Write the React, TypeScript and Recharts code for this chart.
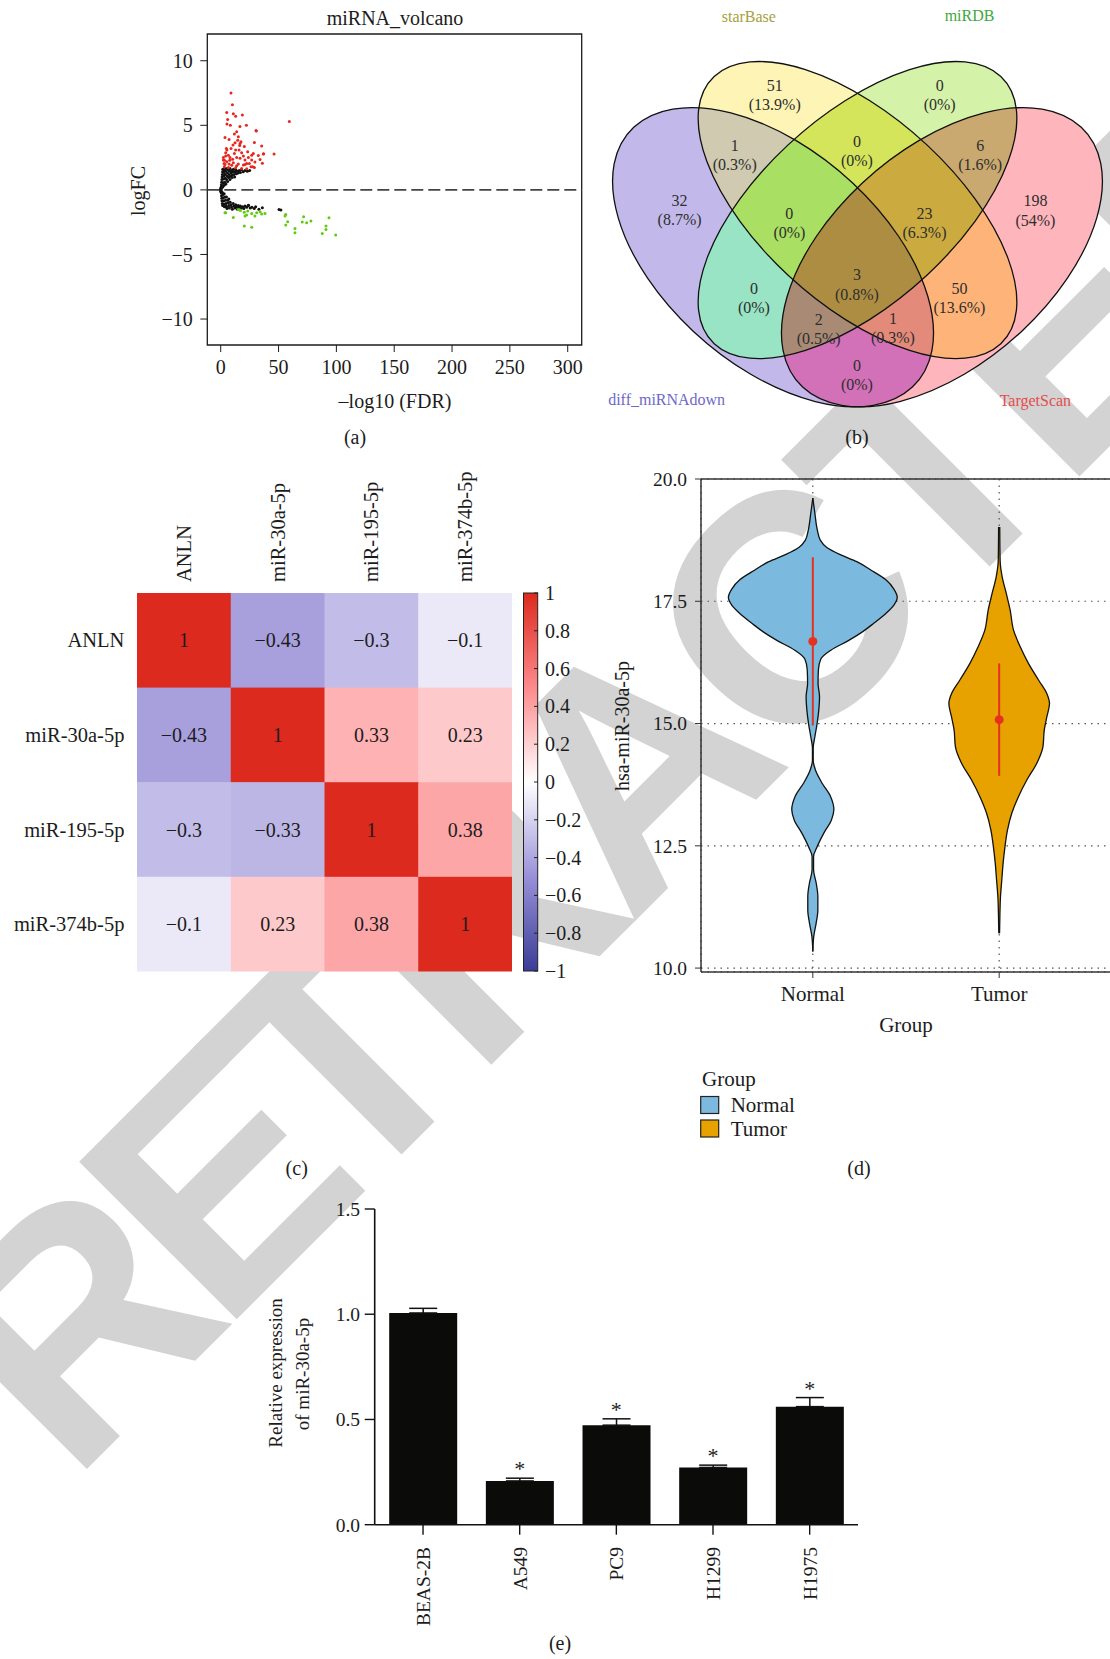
import React from "react";
import {
  Area,
  Bar,
  CartesianGrid,
  ComposedChart,
  ErrorBar,
  LabelList,
  Line,
  ReferenceArea,
  ReferenceDot,
  ReferenceLine,
  Scatter,
  ScatterChart,
  XAxis,
  YAxis,
} from "recharts";

const SERIF = '"Liberation Serif", "Times New Roman", serif';
const INK = "#1c1c1c";

const fmtMinus = (v: number) => (v < 0 ? `\u2212${Math.abs(v)}` : `${v}`);

// ---------- (a) volcano: [-log10(FDR), logFC]
const volcanoUp: [number, number][] = [
  [8.9, 7.5], [10.1, 6.6], [5.2, 6.0], [10.9, 5.9], [12.9, 5.7], [18.7, 5.8], [6.0, 5.45], [5.4, 5.1],
  [8.3, 5.0], [22.2, 5.0], [59.3, 5.3], [30.8, 4.55], [11.8, 4.32], [15.2, 4.11], [3.7, 4.06], [7.2, 3.9],
  [14.7, 3.85], [29.1, 3.67], [16.4, 3.44], [20.4, 3.36], [35.4, 3.39], [10.6, 3.47], [8.9, 3.21], [12.9, 3.08],
  [23.3, 2.95], [18.1, 2.87], [37.1, 2.8], [46.1, 2.77], [32.5, 2.67], [4.3, 2.62], [8.0, 2.51], [13.8, 2.51],
  [23.9, 2.51], [21.0, 2.31], [26.8, 2.31], [36.0, 2.07], [2.3, 2.31], [5.2, 2.18], [10.9, 2.1], [15.2, 2.0],
  [19.6, 1.92], [26.2, 1.79], [29.1, 1.74], [3.1, 1.79], [6.6, 1.74], [12.9, 1.71], [18.1, 1.66], [22.4, 1.64],
  [3.7, 1.97], [9.5, 1.9], [2.3, 2.51], [4.3, 2.87], [6.6, 2.69], [11.8, 2.82], [16.7, 2.44], [10.3, 2.38],
  [2.9, 2.05], [7.2, 2.0], [13.8, 1.87], [21.0, 1.97], [24.7, 2.05], [29.6, 2.15], [34.0, 2.36], [26.8, 2.69],
  [19.6, 2.62], [5.4, 3.08], [15.8, 3.08], [12.4, 3.65], [17.5, 3.72], [13.8, 4.5], [4.9, 3.21], [16.7, 3.6],
  [28.2, 2.82], [36.8, 2.77], [22.5, 2.05], [27.7, 1.79], [16.6, 4.9], [30.5, 4.6], [3.2, 2.3], [7.8, 2.3],
];
const volcanoFlat: [number, number][] = [
  [0, 0], [0.1, 0.05], [0.15, -0.05], [0.2, 0], [0.05, 0.15], [0.05, -0.15],
  [0.3, 0.1], [0.5, 0.25], [0.6, 0.4], [0.8, 0.6], [1.0, 0.8], [1.2, 1.0], [1.4, 1.2], [1.6, 1.4], [1.8, 1.6],
  [2, 0.3], [2.2, 0.55], [2.4, 0.85], [2.6, 1.1], [2.8, 1.35], [3, 1.55], [3.5, 0.6], [3.8, 0.9], [4, 1.2],
  [4.3, 1.45], [4.6, 1.65], [5, 0.8], [5.5, 1.05], [5.8, 1.3], [6.2, 1.55], [6.8, 0.95], [7.2, 1.2], [7.6, 1.45],
  [8, 1.65], [8.5, 1.05], [9, 1.3], [9.5, 1.5], [10, 1.15], [10.5, 1.4], [11, 1.6], [11.5, 1.2], [12.2, 1.4],
  [13, 1.55], [13.5, 1.25], [14.3, 1.45], [15, 1.3], [16, 1.5], [17, 1.35], [18, 1.55], [19.5, 1.4], [21, 1.5],
  [23, 1.45], [25, 1.5], [4.5, 0.45], [6, 0.65], [8, 0.8], [9.8, 0.95], [12, 1.0], [1.5, 0.2], [3, 0.35],
  [0.3, -0.1], [0.5, -0.25], [0.7, -0.45], [0.9, -0.65], [1.1, -0.85], [1.4, -1.05], [1.7, -1.2], [2, -0.35],
  [2.3, -0.6], [2.6, -0.85], [2.9, -1.1], [3.2, -1.3], [3.8, -0.55], [4.2, -0.8], [4.6, -1.05], [5, -1.3],
  [5.4, -1.45], [6, -0.8], [6.5, -1.0], [7, -1.2], [7.5, -1.4], [8.2, -0.95], [8.8, -1.15], [9.4, -1.3],
  [10, -1.5], [10.8, -1.05], [11.5, -1.25], [12.2, -1.4], [13, -1.15], [13.8, -1.3], [14.5, -1.5], [15.2, -1.2],
  [16, -1.35], [17, -1.25], [18, -1.4], [19, -1.3], [20, -1.45], [21, -1.25], [22.5, -1.35], [24, -1.2],
  [25.5, -1.4], [27, -1.35], [29, -1.45], [30.2, -1.3], [33, -1.5], [36, -1.38], [50.4, -1.51], [52, -1.55],
  [4.3, -1.25], [12.4, -1.3], [23.9, -1.18], [1.5, -0.2], [3, -0.3], [5, -0.55], [7, -0.7],
];
const volcanoDown: [number, number][] = [
  [4.3, -1.77], [10.9, -2.13], [15.2, -1.51], [20.4, -1.74], [22.4, -1.95], [23.3, -1.64], [26.8, -1.82],
  [29.6, -2.03], [31.1, -1.77], [34.0, -1.69], [35.4, -1.87], [38.3, -1.82], [20.4, -2.8], [26.8, -2.9],
  [21.0, -2.03], [56.2, -1.9], [55.6, -2.03], [57.9, -2.47], [56.2, -2.72], [64.2, -2.98], [64.2, -3.32],
  [71.7, -2.08], [70.5, -2.49], [74.3, -2.55], [78.0, -2.41], [87.8, -3.37], [91.0, -2.8], [91.0, -3.06],
  [93.6, -2.16], [99.4, -3.5], [3.7, -1.77], [17.0, -1.6],
];
const volcanoXTicks = [0, 50, 100, 150, 200, 250, 300];
const volcanoYTicks = [-10, -5, 0, 5, 10];

// ---------- (b) Venn
const vennNames = ["diff_miRNAdown", "starBase", "miRDB", "TargetScan"];
const vennNameColors = ["#6d69c8", "#a89f3e", "#3da93d", "#e34e4e"];
const vennNameX = [0.161, 0.307, 0.699, 0.816];
const vennNameY = [0.2, 0.929, 0.931, 0.198];
const vennCx = [0.35, 0.5, 0.5, 0.65];
const vennCy = [0.47, 0.5598, 0.5598, 0.47];
const vennRx = [0.35, 0.36, 0.36, 0.35];
const vennRy = [0.2, 0.175, 0.175, 0.2];
const vennTilt = [45, 45, -45, -45];
const vennRegionSets = [
  [0], [1], [2], [3],
  [0, 1], [0, 2], [0, 3], [1, 2], [1, 3], [2, 3],
  [0, 1, 2], [0, 1, 3], [0, 2, 3], [1, 2, 3],
  [0, 1, 2, 3],
];
const vennRegionColors = [
  "#c2b9ea", "#fdf4b5", "#d5f2a9", "#feb5bb",
  "#cfcab0", "#99e4c4", "#d271b8", "#d4e55b", "#feb479", "#c9a970",
  "#a9df62", "#e38a7a", "#a98a74", "#cbab40",
  "#ad8d42",
];
const vennCounts = [32, 51, 0, 198, 1, 0, 0, 0, 50, 6, 0, 1, 2, 23, 3];
const vennLabelX = [0.184, 0.353, 0.646, 0.816, 0.282, 0.316, 0.499, 0.499, 0.681, 0.718, 0.379, 0.563, 0.431, 0.619, 0.499];
const vennLabelY = [0.56, 0.779, 0.779, 0.559, 0.665, 0.392, 0.246, 0.673, 0.392, 0.665, 0.535, 0.335, 0.333, 0.535, 0.418];

// ---------- (c) correlation heatmap
const heatGenes = ["ANLN", "miR-30a-5p", "miR-195-5p", "miR-374b-5p"];
const heatCorr = [
  [1, -0.43, -0.3, -0.1],
  [-0.43, 1, 0.33, 0.23],
  [-0.3, -0.33, 1, 0.38],
  [-0.1, 0.23, 0.38, 1],
];
const corrStops: [number, string][] = [
  [-1, "#3a3d97"],
  [-0.5, "#9990d8"],
  [0, "#ffffff"],
  [0.5, "#fd8a8c"],
  [1, "#dc2a1e"],
];
const corrTicks = [1, 0.8, 0.6, 0.4, 0.2, 0, -0.2, -0.4, -0.6, -0.8, -1];

// ---------- (d) violin
const violinGroups = ["Normal", "Tumor"];
const violinFill = ["#7bbade", "#e8a200"];
const normalLevels = [
  10.34, 10.65, 10.92, 11.19, 11.46, 11.74, 12.01, 12.28, 12.48, 12.76, 13.03, 13.24, 13.51, 13.78, 14.05,
  14.25, 14.5, 14.73, 15.0, 15.28, 15.55, 15.82, 16.1, 16.32, 16.5, 16.7, 16.88, 17.05, 17.25, 17.42, 17.58,
  17.75, 17.94, 18.14, 18.31, 18.45, 18.6, 18.75, 18.96, 19.3, 19.61,
];
const normalDensity = [
  0, 0.005, 0.018, 0.027, 0.027, 0.018, 0.004, 0.004, 0.023, 0.059, 0.1, 0.113, 0.095, 0.05, 0.014,
  0.002, 0.002, 0.011, 0.023, 0.032, 0.036, 0.028, 0.03, 0.043, 0.097, 0.193, 0.268, 0.327, 0.392, 0.435, 0.453,
  0.435, 0.392, 0.311, 0.236, 0.15, 0.075, 0.04, 0.024, 0.011, 0,
];
const tumorLevels = [
  10.71, 11.12, 11.46, 11.8, 12.14, 12.48, 12.83, 13.17, 13.51, 13.85, 14.19, 14.53, 14.87, 15.14, 15.41,
  15.61, 15.89, 16.23, 16.57, 16.91, 17.32, 17.66, 18.0, 18.34, 19.02,
];
const tumorDensity = [
  0.002, 0.004, 0.007, 0.014, 0.021, 0.031, 0.045, 0.068, 0.104, 0.149, 0.202, 0.235, 0.242, 0.256, 0.27,
  0.256, 0.211, 0.157, 0.113, 0.077, 0.059, 0.038, 0.016, 0.005, 0.003,
];
const groupMean = [16.68, 15.08];
const groupSd = [1.72, 1.15];
const violinTicks = [10, 12.5, 15, 17.5, 20];

// ---------- (e) qPCR bars
const cellLines = ["BEAS-2B", "A549", "PC9", "H1299", "H1975"];
const relExpr = [1.006, 0.208, 0.473, 0.272, 0.561];
const relSem = [0.022, 0.013, 0.03, 0.011, 0.043];
const sigMark = [false, true, true, true, true];
const exprTicks = [0, 0.5, 1, 1.5];

// ---------- helpers
const hexToRgb = (h: string) => [1, 3, 5].map((i) => parseInt(h.slice(i, i + 2), 16));
const corrColor = (r: number) => {
  for (let i = 1; i < corrStops.length; i++) {
    const [v1, c1] = corrStops[i - 1];
    const [v2, c2] = corrStops[i];
    if (r <= v2) {
      const t = (r - v1) / (v2 - v1);
      const a = hexToRgb(c1);
      const b = hexToRgb(c2);
      return `rgb(${a.map((x, k) => Math.round(x + (b[k] - x) * t)).join(",")})`;
    }
  }
  return corrStops[corrStops.length - 1][1];
};

const toPts = (arr: [number, number][]) => arr.map(([x, y]) => ({ x, y }));
const dotShape = (color: string) => (p: any) => <circle cx={p.cx} cy={p.cy} r={1.5} fill={color} />;

const tickFont = (size: number) => ({ fill: INK, fontSize: size, fontFamily: SERIF });

// ---------- watermark
const wmLetters = "RETRACTED".split("");
const wmOffsets = [25, 236.9, 416, 597, 813.9, 1030.8, 1247.7, 1428.7, 1627.8];

const Watermark = () => (
  <svg width={1110} height={1659} style={{ position: "absolute", left: 0, top: 0 }}>
    <g
      transform="translate(53.9,1502.1) rotate(-45)"
      fill="#d3d3d3"
      fontFamily='"Liberation Sans", Arial, sans-serif'
      fontWeight="bold"
      fontSize={324}
    >
      {wmLetters.map((ch, i) => (
        <text key={i} x={wmOffsets[i]} y={0}>
          {ch}
        </text>
      ))}
    </g>
  </svg>
);

// ---------- (a)
const VolcanoPanel = () => (
  <div style={{ position: "absolute", left: 110, top: 0 }}>
    <ScatterChart width={480} height={430} margin={{ top: 34, right: 8.3, bottom: 45, left: 37.3 }}>
      <XAxis
        type="number"
        dataKey="x"
        domain={[-11.6, 312.1]}
        ticks={volcanoXTicks}
        allowDataOverflow
        height={40}
        axisLine={false}
        tickSize={7}
        tickMargin={8}
        tickLine={{ stroke: INK }}
        tick={tickFont(20)}
      />
      <YAxis
        type="number"
        dataKey="y"
        domain={[-12.01, 12.07]}
        ticks={volcanoYTicks}
        allowDataOverflow
        width={60}
        axisLine={false}
        tickSize={7}
        tickMargin={7.6}
        tickLine={{ stroke: INK }}
        tick={tickFont(20)}
        tickFormatter={fmtMinus}
      />
      <ReferenceArea x1={-11.6} x2={312.1} y1={-12.01} y2={12.07} fill="#fff" fillOpacity={0} stroke={INK} strokeWidth={1.3} />
      <ReferenceLine y={0} stroke="#444" strokeWidth={1.8} strokeDasharray="12 5" />
      <Scatter data={toPts(volcanoFlat)} shape={dotShape("#111")} isAnimationActive={false} />
      <Scatter data={toPts(volcanoUp)} shape={dotShape("#e8261e")} isAnimationActive={false} />
      <Scatter data={toPts(volcanoDown)} shape={dotShape("#5fcc10")} isAnimationActive={false} />
    </ScatterChart>
  </div>
);

// ---------- (b)
const VENN_W = 534.85;
const VENN_H = 477.65;
const VENN_XDOM: [number, number] = [0, 0.95];
const VENN_YDOM: [number, number] = [0.05, 0.96];
const VSX = VENN_W / (VENN_XDOM[1] - VENN_XDOM[0]);
const VSY = VENN_H / (VENN_YDOM[1] - VENN_YDOM[0]);
const ellTransform = (cx: number, cy: number, tilt: number) =>
  `translate(${cx},${cy}) scale(${VSX},${VSY}) rotate(${tilt})`;

const vennEllipses = vennNames.map((name, i) => ({
  id: i,
  name,
  x: vennCx[i],
  y: vennCy[i],
  rx: vennRx[i],
  ry: vennRy[i],
  tilt: vennTilt[i],
}));
const vennTotal = vennCounts.reduce((s, c) => s + c, 0);
const vennRegions = vennRegionSets.map((sets, i) => {
  const host = sets[sets.length - 1];
  return {
    x: vennCx[host],
    y: vennCy[host],
    rx: vennRx[host],
    ry: vennRy[host],
    tilt: vennTilt[host],
    clip: sets.slice(0, -1),
    color: vennRegionColors[i],
  };
});
const vennLabels = vennCounts.map((c, i) => ({
  x: vennLabelX[i],
  y: vennLabelY[i],
  count: c,
  pct: `${+((c / vennTotal) * 100).toFixed(1)}%`,
}));
const vennTitles = vennNames.map((name, i) => ({ x: vennNameX[i], y: vennNameY[i], name, color: vennNameColors[i] }));

const VennClip = (p: any) => (
  <clipPath id={`venn-clip-${p.payload.id}`}>
    <ellipse transform={ellTransform(p.cx, p.cy, p.payload.tilt)} rx={p.payload.rx} ry={p.payload.ry} />
  </clipPath>
);

const VennRegion = (p: any) => {
  const { clip, tilt, color, rx, ry } = p.payload;
  let node = <ellipse transform={ellTransform(p.cx, p.cy, tilt)} rx={rx} ry={ry} fill={color} />;
  for (const id of clip as number[]) node = <g clipPath={`url(#venn-clip-${id})`}>{node}</g>;
  return <g>{node}</g>;
};

const VennOutline = (p: any) => (
  <ellipse
    transform={ellTransform(p.cx, p.cy, p.payload.tilt)}
    rx={p.payload.rx}
    ry={p.payload.ry}
    fill="none"
    stroke="#111"
    strokeWidth={1.3}
    vectorEffect="non-scaling-stroke"
  />
);

const VennCount = (p: any) => (
  <g fontFamily={SERIF} fontSize={16} fill="#2e2e2e" textAnchor="middle">
    <text x={p.cx} y={p.cy - 9.7} dy="0.35em">
      {p.payload.count}
    </text>
    <text x={p.cx} y={p.cy + 9.7} dy="0.35em">
      ({p.payload.pct})
    </text>
  </g>
);

const VennTitle = (p: any) => (
  <text x={p.cx} y={p.cy} dy="0.35em" textAnchor="middle" fontFamily={SERIF} fontSize={16} fill={p.payload.color}>
    {p.payload.name}
  </text>
);

const VennPanel = () => (
  <div style={{ position: "absolute", left: 576.4, top: 0 }}>
    <ScatterChart width={VENN_W} height={VENN_H} margin={{ top: 0, right: 0, bottom: 0, left: 0 }}>
      <XAxis type="number" dataKey="x" domain={VENN_XDOM} allowDataOverflow hide />
      <YAxis type="number" dataKey="y" domain={VENN_YDOM} allowDataOverflow hide />
      <Scatter data={vennEllipses} shape={VennClip} isAnimationActive={false} />
      <Scatter data={vennRegions} shape={VennRegion} isAnimationActive={false} />
      <Scatter data={vennEllipses} shape={VennOutline} isAnimationActive={false} />
      <Scatter data={vennLabels} shape={VennCount} isAnimationActive={false} />
      <Scatter data={vennTitles} shape={VennTitle} isAnimationActive={false} />
    </ScatterChart>
  </div>
);

// ---------- (c)
const HEAT_PLOT_W = 375;
const HEAT_PLOT_H = 378.4;
const CELL_W = HEAT_PLOT_W / heatGenes.length;
const CELL_H = HEAT_PLOT_H / heatGenes.length;
const heatCells = heatCorr.flatMap((row, r) => row.map((v, c) => ({ x: c, y: r, r: v })));

const HeatCell = (p: any) => (
  <g>
    <rect
      x={p.cx - CELL_W / 2}
      y={p.cy - CELL_H / 2}
      width={CELL_W + 0.6}
      height={CELL_H + 0.6}
      fill={corrColor(p.payload.r)}
    />
    <text x={p.cx} y={p.cy} dy="0.35em" textAnchor="middle" fontFamily={SERIF} fontSize={20} fill={INK}>
      {fmtMinus(p.payload.r)}
    </text>
  </g>
);

const HeatColTick = (p: any) => (
  <text
    transform={`translate(${p.x + 7},${p.y}) rotate(-90)`}
    textAnchor="start"
    fontFamily={SERIF}
    fontSize={20.5}
    fill={INK}
  >
    {heatGenes[p.payload.value]}
  </text>
);

const HeatRowTick = (p: any) => (
  <text x={p.x} y={p.y} dy="0.35em" textAnchor="end" fontFamily={SERIF} fontSize={20.5} fill={INK}>
    {heatGenes[p.payload.value]}
  </text>
);

const BAR_TOP = 593;
const BAR_H = 378;
const ColorBar = () => (
  <svg width={620} height={1000} style={{ position: "absolute", left: 0, top: 0 }}>
    <defs>
      <linearGradient id="corr-grad" x1="0" y1="1" x2="0" y2="0">
        {corrStops.map(([v, c]) => (
          <stop key={v} offset={`${((v + 1) / 2) * 100}%`} stopColor={c} />
        ))}
      </linearGradient>
    </defs>
    <rect x={523.5} y={BAR_TOP} width={14.2} height={BAR_H} fill="url(#corr-grad)" stroke="#222" strokeWidth={1} />
    {corrTicks.map((t) => {
      const y = BAR_TOP + ((1 - t) / 2) * BAR_H;
      return (
        <g key={t}>
          <line x1={534} x2={538} y1={y} y2={y} stroke="#222" strokeWidth={1} />
          <text x={545} y={y} dy="0.35em" fontFamily={SERIF} fontSize={20} fill={INK}>
            {fmtMinus(t)}
          </text>
        </g>
      );
    })}
  </svg>
);

const HeatmapPanel = () => (
  <>
    <div style={{ position: "absolute", left: 0, top: 460 }}>
      <ScatterChart width={520} height={520} margin={{ top: 23, right: 8, bottom: 8.6, left: 7 }}>
        <XAxis
          type="number"
          dataKey="x"
          orientation="top"
          domain={[-0.5, 3.5]}
          ticks={[0, 1, 2, 3]}
          allowDataOverflow
          height={110}
          axisLine={false}
          tickLine={false}
          tickSize={0}
          tickMargin={11}
          tick={HeatColTick}
        />
        <YAxis
          type="number"
          dataKey="y"
          domain={[-0.5, 3.5]}
          ticks={[0, 1, 2, 3]}
          reversed
          allowDataOverflow
          width={130}
          axisLine={false}
          tickLine={false}
          tickSize={0}
          tickMargin={12.6}
          tick={HeatRowTick}
        />
        <Scatter data={heatCells} shape={HeatCell} isAnimationActive={false} />
      </ScatterChart>
    </div>
    <ColorBar />
  </>
);

// ---------- (d)
const normalRows = normalLevels.map((v, i) => ({ v, w: normalDensity[i] }));
const tumorRows = tumorLevels.map((v, i) => ({ v, w: tumorDensity[i] }));

const VIOLIN_MARGIN = { top: 19, right: 9, bottom: 8, left: 11 };

// one chart per group, stacked on the same plot frame
const ViolinLayer = ({ group, rows, withFrame }: { group: number; rows: { v: number; w: number }[]; withFrame: boolean }) => {
  const center = group + 1;
  return (
    <div style={{ position: "absolute", left: 600, top: 460 }}>
      <ComposedChart layout="vertical" width={520} height={560} data={rows} margin={VIOLIN_MARGIN}>
        {withFrame && <CartesianGrid stroke="#555" strokeDasharray="1.5 5" strokeWidth={1.2} />}
        <XAxis
          type="number"
          domain={[0.4, 2.6]}
          ticks={[1, 2]}
          allowDataOverflow
          height={40}
          tickSize={6}
          tickMargin={8}
          axisLine={withFrame ? { stroke: "#333", strokeWidth: 1.5 } : false}
          tickLine={withFrame ? { stroke: "#333" } : false}
          tick={withFrame ? tickFont(21) : false}
          tickFormatter={(v: number) => violinGroups[v - 1]}
        />
        <YAxis
          type="number"
          dataKey="v"
          domain={[9.92, 20]}
          ticks={violinTicks}
          reversed
          allowDataOverflow
          width={90}
          tickSize={6}
          tickMargin={8}
          axisLine={withFrame ? { stroke: "#333", strokeWidth: 1.5 } : false}
          tickLine={withFrame ? { stroke: "#333" } : false}
          tick={withFrame ? tickFont(19.5) : false}
          tickFormatter={(v: number) => v.toFixed(1)}
        />
        {withFrame && <ReferenceLine y={20} stroke="#333" strokeWidth={1.5} />}
        <Area
          dataKey={(d: any) => [center - d.w, center + d.w]}
          type="monotone"
          fill={violinFill[group]}
          fillOpacity={1}
          stroke="#111"
          strokeWidth={1.3}
          isAnimationActive={false}
        />
        <ReferenceLine
          segment={[
            { x: center, y: groupMean[group] - groupSd[group] },
            { x: center, y: groupMean[group] + groupSd[group] },
          ]}
          stroke="#e5321f"
          strokeWidth={2}
        />
        <ReferenceDot x={center} y={groupMean[group]} r={4.5} fill="#e5321f" stroke="none" />
      </ComposedChart>
    </div>
  );
};

const ViolinPanel = () => (
  <>
    <ViolinLayer group={0} rows={normalRows} withFrame />
    <ViolinLayer group={1} rows={tumorRows} withFrame={false} />
  </>
);

// ---------- (e)
const exprRows = cellLines.map((name, i) => ({
  name,
  value: relExpr[i],
  err: [0, relSem[i]],
  star: sigMark[i] ? relExpr[i] + relSem[i] : null,
}));

const CellLineTick = (p: any) => (
  <text
    transform={`translate(${p.x + 7},${p.y}) rotate(-90)`}
    textAnchor="end"
    fontFamily={SERIF}
    fontSize={19.5}
    fill={INK}
  >
    {p.payload.value}
  </text>
);

const StarLabel = (p: any) =>
  p.value == null ? null : (
    <text x={p.x} y={p.y - 2} textAnchor="middle" fontFamily={SERIF} fontSize={22} fill={INK}>
      *
    </text>
  );

const ExpressionPanel = () => (
  <div style={{ position: "absolute", left: 230, top: 1190 }}>
    <ComposedChart
      width={640}
      height={469}
      data={exprRows}
      barCategoryGap="15%"
      margin={{ top: 19, right: 12, bottom: 34.3, left: 44.7 }}
    >
      <XAxis
        dataKey="name"
        height={100}
        tickSize={10}
        tickMargin={12.3}
        axisLine={{ stroke: "#111", strokeWidth: 1.6 }}
        tickLine={{ stroke: "#111", strokeWidth: 1.4 }}
        tick={CellLineTick}
        interval={0}
      />
      <YAxis
        type="number"
        domain={[0, 1.5]}
        ticks={exprTicks}
        allowDataOverflow
        width={100}
        tickSize={10}
        tickMargin={4.7}
        axisLine={{ stroke: "#111", strokeWidth: 1.6 }}
        tickLine={{ stroke: "#111", strokeWidth: 1.4 }}
        tick={tickFont(19.5)}
        tickFormatter={(v: number) => v.toFixed(1)}
      />
      <Bar dataKey="value" fill="#0b0b09" isAnimationActive={false}>
        <ErrorBar dataKey="err" width={14} stroke="#111" strokeWidth={1.5} direction="y" />
      </Bar>
      <Line dataKey="star" stroke="none" dot={false} activeDot={false} isAnimationActive={false}>
        <LabelList dataKey="star" content={StarLabel} />
      </Line>
    </ComposedChart>
  </div>
);

// ---------- titles and captions
const Captions = () => (
  <svg
    width={1110}
    height={1659}
    style={{ position: "absolute", left: 0, top: 0, pointerEvents: "none" }}
    fontFamily={SERIF}
    fill={INK}
  >
    <text x={395} y={25} textAnchor="middle" fontSize={20}>
      miRNA_volcano
    </text>
    <text x={395} y={408} textAnchor="middle" fontSize={20}>
      {"\u2013log10 (FDR)"}
    </text>
    <text transform="translate(145,191) rotate(-90)" textAnchor="middle" fontSize={20}>
      logFC
    </text>
    <text x={355} y={444} textAnchor="middle" fontSize={20}>
      (a)
    </text>
    <text x={857} y={444} textAnchor="middle" fontSize={20}>
      (b)
    </text>
    <text x={296.7} y={1175} textAnchor="middle" fontSize={20}>
      (c)
    </text>
    <text x={859} y={1175} textAnchor="middle" fontSize={20}>
      (d)
    </text>
    <text x={560} y={1650} textAnchor="middle" fontSize={20}>
      (e)
    </text>

    <text x={906} y={1032} textAnchor="middle" fontSize={21}>
      Group
    </text>
    <text transform="translate(629,726) rotate(-90)" textAnchor="middle" fontSize={20}>
      hsa-miR-30a-5p
    </text>
    <text x={702} y={1086} fontSize={21}>
      Group
    </text>
    {violinGroups.map((g, i) => (
      <g key={g}>
        <rect
          x={700.7}
          y={1096.5 + i * 23.5}
          width={18}
          height={17}
          fill={violinFill[i]}
          stroke="#222"
          strokeWidth={1.2}
        />
        <text x={730.7} y={1112 + i * 23.5} fontSize={21}>
          {g}
        </text>
      </g>
    ))}

    <text transform="translate(282,1373) rotate(-90)" textAnchor="middle" fontSize={19}>
      Relative expression
    </text>
    <text transform="translate(309,1374) rotate(-90)" textAnchor="middle" fontSize={19}>
      of miR-30a-5p
    </text>
  </svg>
);

export default function App() {
  return (
    <div
      style={{
        position: "absolute",
        left: 0,
        top: 0,
        width: 1110,
        height: 1659,
        overflow: "hidden",
        background: "#fff",
      }}
    >
      <Watermark />
      <VolcanoPanel />
      <VennPanel />
      <HeatmapPanel />
      <ViolinPanel />
      <ExpressionPanel />
      <Captions />
    </div>
  );
}
